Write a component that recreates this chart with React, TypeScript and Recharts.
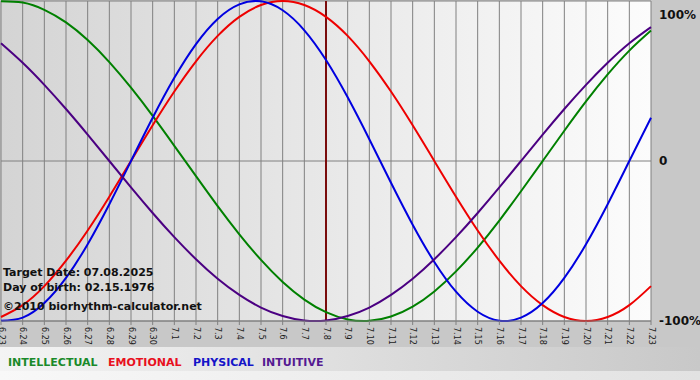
import React from "react";
import { LineChart, Line, XAxis, YAxis, CartesianGrid, ReferenceLine } from "recharts";

const days = [
  "6.23", "6.24", "6.25", "6.26", "6.27", "6.28", "6.29", "6.30",
  "7.1", "7.2", "7.3", "7.4", "7.5", "7.6", "7.7", "7.8", "7.9", "7.10",
  "7.11", "7.12", "7.13", "7.14", "7.15", "7.16", "7.17", "7.18", "7.19",
  "7.20", "7.21", "7.22", "7.23",
];

const intellectual = [
  99.9, 99.0, 94.5, 86.6, 75.6, 61.8, 45.8, 28.2, 9.5, -9.5, -28.2, -45.8,
  -61.8, -75.6, -86.6, -94.5, -99.0, -99.9, -97.2, -91.0, -81.5, -69.0,
  -54.1, -37.2, -18.9, 0, 18.9, 37.2, 54.1, 69.0, 81.5,
];

const emotional = [
  -97.5, -90.1, -78.2, -62.3, -43.4, -22.3, 0, 22.3, 43.4, 62.3, 78.2, 90.1,
  97.5, 100, 97.5, 90.1, 78.2, 62.3, 43.4, 22.3, 0, -22.3, -43.4, -62.3,
  -78.2, -90.1, -97.5, -100, -97.5, -90.1, -78.2,
];

const physical = [
  -99.8, -97.9, -88.8, -73.1, -52.0, -27.0, 0, 27.0, 52.0, 73.1, 88.8, 97.9,
  99.8, 94.2, 81.7, 63.1, 39.8, 13.6, -13.6, -39.8, -63.1, -81.7, -94.2,
  -99.8, -97.9, -88.8, -73.1, -52.0, -27.0, 0, 27.0,
];

const intuitive = [
  73.6, 61.4, 47.6, 32.5, 16.5, 0, -16.5, -32.5, -47.6, -61.4, -73.6, -83.7,
  -91.6, -96.9, -99.7, -99.7, -96.9, -91.6, -83.7, -73.6, -61.4, -47.6,
  -32.5, -16.5, 0, 16.5, 32.5, 47.6, 61.4, 73.6, 83.7,
];

const targetDay = "7.8";
const yTicks = [-100, 0, 100];
const infoLines = [
  "Target Date: 07.08.2025",
  "Day of birth: 02.15.1976",
  "\u00A92010 biorhythm-calculator.net",
];
const seriesNames = ["INTELLECTUAL", "EMOTIONAL", "PHYSICAL", "INTUITIVE"];
const seriesKeys = ["intellectual", "emotional", "physical", "intuitive"];
const lineColors = ["#008000", "#ee0000", "#0000e0", "#4b0082"];
const legendColors = ["#1a8a2a", "#e8101e", "#1414c8", "#551a92"];

const data = days.map((day, i) => ({
  day,
  intellectual: intellectual[i],
  emotional: emotional[i],
  physical: physical[i],
  intuitive: intuitive[i],
}));

const FONT = "'DejaVu Sans', Verdana, sans-serif";

const XTick = (props: any) => {
  const { x, y, payload } = props;
  return (
    <text
      x={x}
      y={y}
      transform={`rotate(90 ${x} ${y})`}
      textAnchor="start"
      dominantBaseline="central"
      fontSize={8}
      fontFamily={FONT}
      fill="#1a1a1a"
    >
      {payload.value}
    </text>
  );
};

const YTick = (props: any) => {
  const { x, y, payload } = props;
  const v = payload.value;
  const dy = v === 100 ? 6 : 0;
  return (
    <text
      x={x}
      y={y + dy}
      textAnchor="start"
      dominantBaseline="central"
      fontSize={12}
      fontWeight="bold"
      fontFamily={FONT}
      fill="#111"
    >
      {v === 0 ? "0" : `${v}%`}
    </text>
  );
};

const legendX = [8, 108, 193, 262];

export default function App() {
  return (
    <div
      style={{
        position: "absolute",
        left: 0,
        top: 0,
        width: 700,
        height: 380,
        background: "#c8c8c8",
        overflow: "hidden",
      }}
    >
      <div
        style={{
          position: "absolute",
          left: 0,
          top: 347,
          width: 700,
          height: 24,
          background: "linear-gradient(to right, #f4f4f4, #c8c8c8)",
        }}
      />
      <div
        style={{
          position: "absolute",
          left: 0,
          top: 371,
          width: 700,
          height: 9,
          background: "linear-gradient(to right, #f8f8f8, #e2e2e2)",
        }}
      />
      <div style={{ position: "absolute", left: 0, top: 0 }}>
        <LineChart
          width={700}
          height={380}
          data={data}
          margin={{ top: 1, right: 0, bottom: 19, left: 1 }}
        >
          <CartesianGrid
            stroke="#808080"
            fill="url(#plotBg)"
            fillOpacity={1}
          />
          <XAxis
            dataKey="day"
            interval={0}
            tickSize={4}
            tickMargin={2}
            height={40}
            stroke="#808080"
            tick={<XTick />}
          />
          <YAxis
            orientation="right"
            domain={[-100, 100]}
            ticks={yTicks}
            width={49}
            axisLine={false}
            tickLine={false}
            tickMargin={2}
            tick={<YTick />}
          />
          <ReferenceLine x={targetDay} stroke="#7a0c0c" strokeWidth={2} />
          {seriesKeys.map((k, i) => (
            <Line
              key={k}
              type="natural"
              dataKey={k}
              stroke={lineColors[i]}
              strokeWidth={2}
              dot={false}
              isAnimationActive={false}
            />
          ))}
        </LineChart>
      </div>
      <svg
        width={700}
        height={380}
        style={{ position: "absolute", left: 0, top: 0, pointerEvents: "none" }}
      >
        <defs>
          <linearGradient id="plotBg" x1="0" y1="0" x2="1" y2="0">
            <stop offset="0%" stopColor="#d4d4d4" />
            <stop offset="100%" stopColor="#fcfcfc" />
          </linearGradient>
        </defs>
        {infoLines.map((t, i) => (
          <text
            key={t}
            x={3}
            y={[276, 291, 310][i]}
            fontSize={11}
            fontWeight="bold"
            fontFamily={FONT}
            fill="#111"
          >
            {t}
          </text>
        ))}
        {seriesNames.map((n, i) => (
          <text
            key={n}
            x={legendX[i]}
            y={366}
            fontSize={11}
            fontWeight="bold"
            fontFamily={FONT}
            fill={legendColors[i]}
          >
            {n}
          </text>
        ))}
      </svg>
    </div>
  );
}
